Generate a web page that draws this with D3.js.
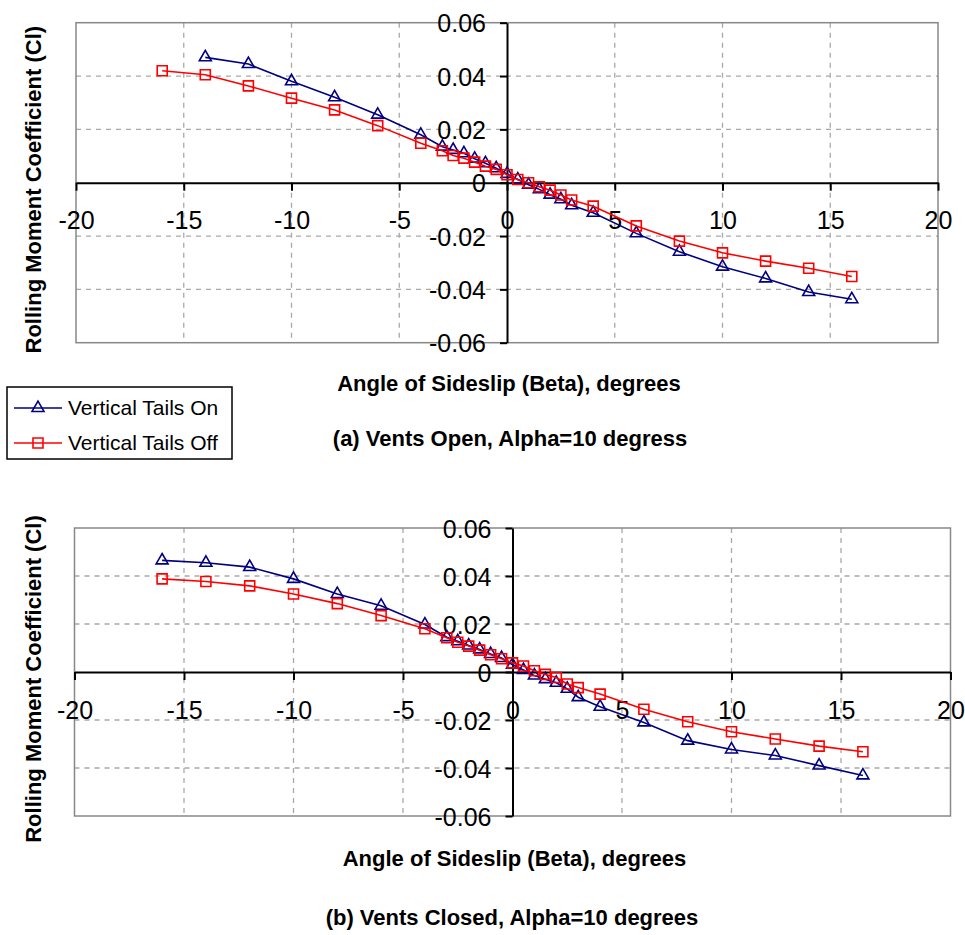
<!DOCTYPE html>
<html>
<head>
<meta charset="utf-8">
<script src="https://cdn.jsdelivr.net/npm/d3@7"></script>
<style>
  html, body { margin: 0; padding: 0; background: #fff; }
  svg { display: block; }
  text { font-family: "Liberation Sans", Arial, sans-serif; }
</style>
</head>
<body>
<svg id="chart" width="965" height="935"></svg>
<script>
// Sideslip angles (degrees) for each run
const betaOpenOn  = [-14,-12,-10,-8,-6,-4,-3,-2.5,-2,-1.5,-1,-0.5,0,0.5,1,1.5,2,2.5,3,4,6,8,10,12,14,16];
const betaOpenOff = [-16,-14,-12,-10,-8,-6,-4,-3,-2.5,-2,-1.5,-1,-0.5,0,0.5,1,1.5,2,2.5,3,4,6,8,10,12,14,16];
const betaClosedOn  = [-16,-14,-12,-10,-8,-6,-4,-3,-2.5,-2,-1.5,-1,-0.5,0,0.5,1,1.5,2,2.5,3,4,6,8,10,12,14,16];
const betaClosedOff = [-16,-14,-12,-10,-8,-6,-4,-3,-2.5,-2,-1.5,-1,-0.5,0,0.5,1,1.5,2,2.5,3,4,6,8,10,12,14,16];

// Rolling moment coefficient, vents open
const clOpenOn  = [0.0470,0.0445,0.0380,0.0320,0.0255,0.0180,0.0135,0.0123,0.0110,0.0090,0.0073,0.0054,0.0033,0.0012,-0.0008,-0.0025,-0.0045,-0.0062,-0.0085,-0.0113,-0.0190,-0.0259,-0.0315,-0.0359,-0.0410,-0.0437];
const clOpenOff = [0.0420,0.0405,0.0363,0.0317,0.0273,0.0214,0.0148,0.0120,0.0102,0.0092,0.0077,0.0062,0.0050,0.0030,0.0012,0.0000,-0.0015,-0.0028,-0.0046,-0.0065,-0.0088,-0.0162,-0.0219,-0.0263,-0.0294,-0.0321,-0.0352];

// Rolling moment coefficient, vents closed
const clClosedOn  = [0.0465,0.0455,0.0437,0.0388,0.0325,0.0276,0.0198,0.0145,0.0128,0.0110,0.0094,0.0075,0.0058,0.0030,0.0008,-0.0015,-0.0030,-0.0045,-0.0070,-0.0105,-0.0145,-0.0210,-0.0286,-0.0323,-0.0348,-0.0390,-0.0431];
const clClosedOff = [0.0388,0.0377,0.0359,0.0325,0.0285,0.0235,0.0180,0.0143,0.0124,0.0108,0.0091,0.0072,0.0055,0.0038,0.0025,0.0005,-0.0010,-0.0023,-0.0050,-0.0065,-0.0092,-0.0155,-0.0207,-0.0249,-0.0279,-0.0309,-0.0332];

// Axis ticks
const xTicks = [-20,-15,-10,-5,0,5,10,15,20];
const xTickLabels = ["-20","-15","-10","-5","0","5","10","15","20"];
const yTicks = [0.06,0.04,0.02,0,-0.02,-0.04,-0.06];
const yTickLabels = ["0.06","0.04","0.02","0","-0.02","-0.04","-0.06"];
const xGrid = [-15,-10,-5,5,10,15];
const yGrid = [0.04,0.02,-0.02,-0.04];

const seriesNames = ["Vertical Tails On","Vertical Tails Off"];
const seriesColors = ["#000080","#ff0000"];

const xTitle = "Angle of Sideslip (Beta), degrees";
const yTitle = "Rolling Moment Coefficient (Cl)";

const svg = d3.select("#chart");
const font = '"Liberation Sans", Arial, sans-serif';

const triangle = d3.symbol().type(d3.symbolTriangle).size(62);
const square = d3.symbol().type(d3.symbolSquare).size(100);

function drawPanel(p) {
  const x = d3.scaleLinear().domain([-20, 20]).range([p.left, p.right]);
  const y = d3.scaleLinear().domain([-0.06, 0.06]).range([p.bottom, p.top]);
  const g = svg.append("g");

  // dashed gridlines
  g.append("g").selectAll("line").data(xGrid).join("line")
    .attr("x1", d => x(d)).attr("x2", d => x(d))
    .attr("y1", p.top).attr("y2", p.bottom)
    .attr("stroke", "#a8a8a8").attr("stroke-width", 1.3).attr("stroke-dasharray", "5,5");
  g.append("g").selectAll("line").data(yGrid).join("line")
    .attr("x1", p.left).attr("x2", p.right)
    .attr("y1", d => y(d)).attr("y2", d => y(d))
    .attr("stroke", "#a8a8a8").attr("stroke-width", 1.3).attr("stroke-dasharray", "5,5");

  // plot area frame
  g.append("rect")
    .attr("x", p.left).attr("y", p.top)
    .attr("width", p.right - p.left).attr("height", p.bottom - p.top)
    .attr("fill", "none").attr("stroke", "#888").attr("stroke-width", 1.5);

  // axes crossing at the origin
  const xAxis = d3.axisBottom(x).tickValues(xTicks).tickSize(8).tickSizeOuter(0)
    .tickFormat((d, i) => xTickLabels[i]);
  const gx = g.append("g").attr("transform", `translate(0,${y(0)})`).call(xAxis);
  gx.selectAll("text").attr("y", 37.5).attr("dy", "0.36em")
    .attr("font-size", 25).attr("font-family", font).attr("fill", "#000");

  const yAxis = d3.axisLeft(y).tickValues(yTicks).tickSize(7).tickSizeOuter(0).tickPadding(14)
    .tickFormat((d, i) => yTickLabels[i]);
  const gy = g.append("g").attr("transform", `translate(${x(0)},0)`).call(yAxis);
  gy.selectAll("text").attr("dy", "0.36em")
    .attr("font-size", 25).attr("font-family", font).attr("fill", "#000");

  [gx, gy].forEach(a => {
    a.select(".domain").attr("stroke", "#000").attr("stroke-width", 2);
    a.selectAll(".tick line").attr("stroke", "#000").attr("stroke-width", 2);
  });

  // data series
  const line = d3.line().x(d => x(d[0])).y(d => y(d[1]));
  p.series.forEach((s, si) => {
    const pts = s.beta.map((b, i) => [b, s.cl[i]]);
    g.append("path").datum(pts).attr("d", line)
      .attr("fill", "none").attr("stroke", seriesColors[si]).attr("stroke-width", 1.6);
    g.append("g").selectAll("path").data(pts).join("path")
      .attr("transform", d => `translate(${x(d[0])},${y(d[1])})`)
      .attr("d", si === 0 ? triangle : square)
      .attr("fill", "none").attr("stroke", seriesColors[si]).attr("stroke-width", 1.6);
  });

  // titles
  g.append("text")
    .attr("x", (p.left + p.right) / 2 + 2).attr("y", p.xTitleY)
    .attr("text-anchor", "middle").attr("dy", "0.35em")
    .attr("font-size", 22).attr("font-weight", "bold").text(xTitle);
  g.append("text")
    .attr("transform", `translate(33,${(p.top + p.bottom) / 2 + 7}) rotate(-90)`)
    .attr("text-anchor", "middle").attr("dy", "0.35em")
    .attr("font-size", 22).attr("font-weight", "bold").text(yTitle);
  g.append("text")
    .attr("x", p.captionX).attr("y", p.captionY)
    .attr("text-anchor", "middle").attr("dy", "0.35em")
    .attr("font-size", 22).attr("font-weight", "bold").text(p.caption);
}

drawPanel({
  left: 76, right: 938, top: 22.7, bottom: 342.7,
  xTitleY: 383, captionX: 510, captionY: 438,
  caption: "(a) Vents Open, Alpha=10 degress",
  series: [{beta: betaOpenOn, cl: clOpenOn}, {beta: betaOpenOff, cl: clOpenOff}]
});

drawPanel({
  left: 74.5, right: 950.5, top: 528, bottom: 816,
  xTitleY: 858, captionX: 512, captionY: 917,
  caption: "(b) Vents Closed, Alpha=10 degrees",
  series: [{beta: betaClosedOn, cl: clClosedOn}, {beta: betaClosedOff, cl: clClosedOff}]
});

// legend
const lg = svg.append("g");
lg.append("rect").attr("x", 7).attr("y", 387).attr("width", 225).attr("height", 72)
  .attr("fill", "#fff").attr("stroke", "#000").attr("stroke-width", 1.5);
seriesNames.forEach((name, i) => {
  const cy = 408 + i * 35;
  lg.append("line").attr("x1", 14).attr("x2", 62).attr("y1", cy).attr("y2", cy)
    .attr("stroke", seriesColors[i]).attr("stroke-width", 1.6);
  lg.append("path").attr("transform", `translate(38,${cy})`)
    .attr("d", i === 0 ? triangle : square)
    .attr("fill", "none").attr("stroke", seriesColors[i]).attr("stroke-width", 1.6);
  lg.append("text").attr("x", 68).attr("y", cy).attr("dy", "0.35em")
    .attr("font-size", 21).attr("fill", "#000").text(name);
});
</script>
</body>
</html>
